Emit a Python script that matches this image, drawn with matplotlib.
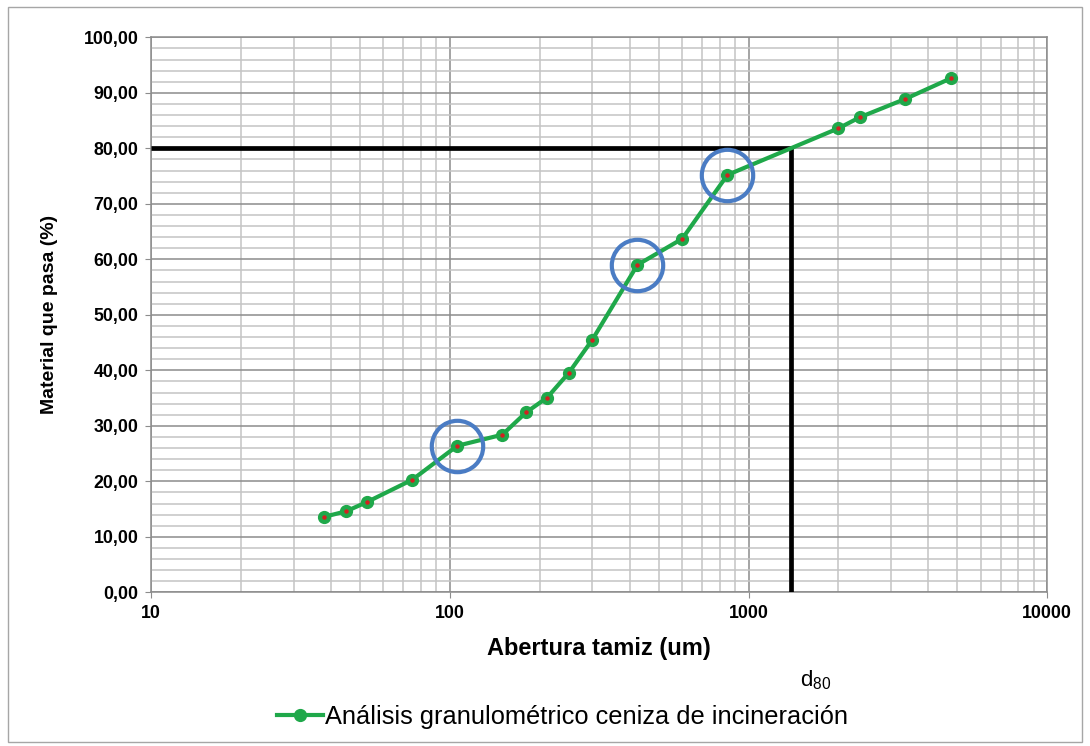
import matplotlib
matplotlib.use("Agg")
from matplotlib import pyplot as plt
from matplotlib.ticker import FixedLocator, FuncFormatter, MultipleLocator, NullFormatter
from matplotlib.patches import Rectangle

# sieve opening (um) and percent passing
abertura = [38, 45, 53, 75, 106, 150, 180, 212, 250, 300, 425, 600, 850, 2000, 2360, 3350, 4750]
pasa = [13.6, 14.6, 16.3, 20.3, 26.4, 28.4, 32.4, 35.1, 39.5, 45.5, 59.0, 63.7, 75.2, 83.6, 85.6, 88.9, 92.6]

# highlighted points (blue circles)
marcados_x = [106, 425, 850]
marcados_y = [26.4, 59.0, 75.2]

# d80 reading
d80 = 1390
p80 = 80

x_ticks = [10, 100, 1000, 10000]
x_labels = ["10", "100", "1000", "10000"]

plt.rcParams['font.family'] = ['Liberation Sans', 'DejaVu Sans']

fig = plt.figure(figsize=(10.9, 7.46), dpi=100)
ax = fig.add_axes([0.1385, 0.206, 0.8223, 0.744])

# outer frame of the chart area
fig.patches.append(Rectangle((0.007, 0.006), 0.986, 0.984, transform=fig.transFigure,
                             fill=False, edgecolor="#a6a6a6", linewidth=1.0))

ax.set_xscale("log")
ax.set_xlim(10, 10000)
ax.set_ylim(0, 100)

ax.xaxis.set_major_locator(FixedLocator(x_ticks))
ax.xaxis.set_major_formatter(FuncFormatter(lambda v, p: x_labels[x_ticks.index(round(v))] if round(v) in x_ticks else ""))
ax.xaxis.set_minor_locator(FixedLocator([m * 10 ** d for d in range(1, 4) for m in range(2, 10)]))
ax.xaxis.set_minor_formatter(NullFormatter())
ax.yaxis.set_major_locator(MultipleLocator(10))
ax.yaxis.set_minor_locator(MultipleLocator(2))
ax.yaxis.set_major_formatter(FuncFormatter(lambda v, p: f"{v:.2f}".replace(".", ",")))

ax.grid(which="major", color="#8c8c8c", linewidth=1.1)
ax.grid(which="minor", color="#c4c4c4", linewidth=1.1)
ax.set_axisbelow(True)

for s in ax.spines.values():
    s.set_color("#8c8c8c")
    s.set_linewidth(1.1)

ax.tick_params(axis="both", which="major", length=4, color="#8c8c8c", labelsize=12.8, pad=5)
ax.tick_params(axis="both", which="minor", length=0)
for lab in ax.get_xticklabels() + ax.get_yticklabels():
    lab.set_fontweight("bold")

ax.set_xlabel("Abertura tamiz (um)", fontsize=17, fontweight="bold")
ax.set_ylabel("Material que pasa (%)", fontsize=14, fontweight="bold")
ax.xaxis.set_label_coords(0.5, -0.08)
ax.yaxis.set_label_coords(-0.104, 0.5)

# d80 construction lines
ax.plot([10, d80], [p80, p80], color="black", linewidth=3.4, solid_capstyle="butt", zorder=3, clip_on=False)
ax.plot([d80, d80], [0, p80], color="black", linewidth=3.4, solid_capstyle="butt", zorder=3)

# main curve
ax.plot(abertura, pasa, color="#1fa84a", linewidth=3, marker="o", markersize=8.5,
        markerfacecolor="#1fa84a", markeredgecolor="#1fa84a", zorder=4,
        label="Análisis granulométrico ceniza de incineración")
ax.plot(abertura, pasa, linestyle="none", marker="o", markersize=2.2, color="#d42020", zorder=5)

# blue circles
ax.plot(marcados_x, marcados_y, linestyle="none", marker="o", markersize=37,
        markerfacecolor="none", markeredgecolor="#4a7cc4", markeredgewidth=3, zorder=6)

fig.text(0.748, 0.088, r"$\mathregular{d_{80}}$", fontsize=16, ha="center", va="center")

leg = fig.legend(handles=[ax.get_lines()[2]], loc="center", bbox_to_anchor=(0.516, 0.039),
                 frameon=False, fontsize=18.3, handlelength=1.8, handletextpad=0.1)

fig.savefig("out.png", dpi=100)
